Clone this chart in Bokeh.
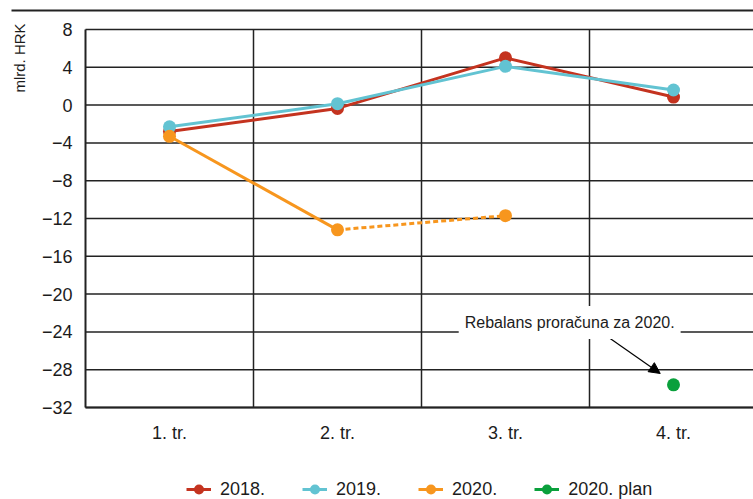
import math
from bokeh.plotting import figure
from bokeh.models import Range1d, Label, Arrow, NormalHead, Legend, LegendItem
from bokeh.core.properties import value
from bokeh.embed import file_html
from bokeh.resources import INLINE

# ---- data ----
quarters = ["1. tr.", "2. tr.", "3. tr.", "4. tr."]
q_pos = [1, 2, 3, 4]
s2018 = [-2.8, -0.35, 5.0, 0.85]
s2019 = [-2.3, 0.15, 4.1, 1.6]
s2020 = [-3.3, -13.2, -11.7]
plan_pos = [4]
plan_2020 = [-29.6]
y_ticks = list(range(-32, 9, 4))
y_labels = [str(t).replace("-", "\u2212") for t in y_ticks]

# ---- layout constants (pixels) ----
W, H = 753, 499
X0_PX, CAT_PX = 85, 168       # left axis position, width of one quarter
Y8_PX, UNIT_PX = 29, 9.45     # position of value 8, pixels per unit


def xd(px):
    return 0.5 + (px - X0_PX) / CAT_PX


def yd(py):
    return 8 - (py - Y8_PX) / UNIT_PX


FONT = "Liberation Sans"
DARK = "#1c1c1c"
GRID = "#222222"
C2018, C2019, C2020, CPLAN = "#C4331F", "#62C3D2", "#F7961E", "#0AA03C"

p = figure(width=W, height=H, output_backend="svg", toolbar_location=None,
           title=None, x_axis_location=None, y_axis_location=None,
           x_range=Range1d(xd(0), xd(W)), y_range=Range1d(yd(H), yd(0)),
           min_border=0)
p.outline_line_color = None
p.grid.visible = False

# top rule
p.segment(x0=xd(11), x1=xd(W), y0=yd(10), y1=yd(10), line_color=GRID, line_width=2)

# horizontal grid lines (from the y ticks)
p.segment(x0=q_pos[0] - 0.5, x1=xd(W), y0=y_ticks, y1=y_ticks,
          line_color=GRID, line_width=1.5)
# vertical separators between quarters and left axis
bounds = [q - 0.5 for q in q_pos]
p.segment(x0=bounds[1:], x1=bounds[1:], y0=y_ticks[0], y1=y_ticks[-1],
          line_color=GRID, line_width=1.5)
p.segment(x0=bounds[0], x1=bounds[0], y0=y_ticks[0], y1=y_ticks[-1],
          line_color=GRID, line_width=2)
p.segment(x0=bounds[0], x1=xd(W), y0=y_ticks[0], y1=y_ticks[0],
          line_color=GRID, line_width=2)

# tick labels
p.text(x=bounds[0], y=y_ticks, text=y_labels, x_offset=-13,
       text_align="right", text_baseline="middle", text_color=DARK,
       text_font=value(FONT), text_font_size="18px")
p.text(x=q_pos, y=y_ticks[0], text=quarters, y_offset=25,
       text_align="center", text_baseline="middle", text_color=DARK,
       text_font=value(FONT), text_font_size="18px")
# y axis title
p.text(x=xd(18.5), y=yd(57.5), text=["mlrd. HRK"], angle=math.pi / 2,
       text_align="center", text_baseline="middle", text_color=DARK,
       text_font=value(FONT), text_font_size="15px")

# ---- series ----
l18 = p.line(q_pos, s2018, line_color=C2018, line_width=3)
c18 = p.scatter(q_pos, s2018, size=13, fill_color=C2018, line_color=None)
l19 = p.line(q_pos, s2019, line_color=C2019, line_width=3)
c19 = p.scatter(q_pos, s2019, size=13, fill_color=C2019, line_color=None)
l20 = p.line(q_pos[:2], s2020[:2], line_color=C2020, line_width=3)
p.line(q_pos[1:3], s2020[1:3], line_color=C2020, line_width=3, line_dash="5 3")
c20 = p.scatter(q_pos[:3], s2020, size=13, fill_color=C2020, line_color=None)
lpl = p.line(plan_pos, plan_2020, line_color=CPLAN, line_width=3)
cpl = p.scatter(plan_pos, plan_2020, size=13, fill_color=CPLAN, line_color=None)

# ---- annotation ----
px, py = plan_pos[0], plan_2020[0]
p.add_layout(Arrow(end=NormalHead(size=11, fill_color="black", line_color="black"),
                   x_start=px - 0.377, y_start=py + 4.9,
                   x_end=px - 0.079, y_end=py + 1.2,
                   line_color="black", line_width=1.2))
p.add_layout(Label(x=px - 0.618, y=py + 6.59, text="Rebalans prora\u010duna za 2020.",
                   text_font=FONT, text_font_size="16px", text_color=DARK,
                   text_align="center", text_baseline="middle",
                   background_fill_color="white", padding=(6, 8)))

# ---- legend ----
legend = Legend(items=[
    LegendItem(label="2018.", renderers=[l18, c18]),
    LegendItem(label="2019.", renderers=[l19, c19]),
    LegendItem(label="2020.", renderers=[l20, c20]),
    LegendItem(label="2020. plan", renderers=[lpl, cpl]),
], orientation="horizontal", location=(186, -3))
legend.border_line_color = None
legend.background_fill_alpha = 0
legend.label_text_font = FONT
legend.label_text_font_size = "18px"
legend.label_text_color = DARK
legend.glyph_width = 25
legend.glyph_height = 26
legend.spacing = 37
legend.label_standoff = 9
legend.padding = 0
legend.margin = 0
p.add_layout(legend, "center")

open("out.html", "w").write(file_html(p, INLINE))
